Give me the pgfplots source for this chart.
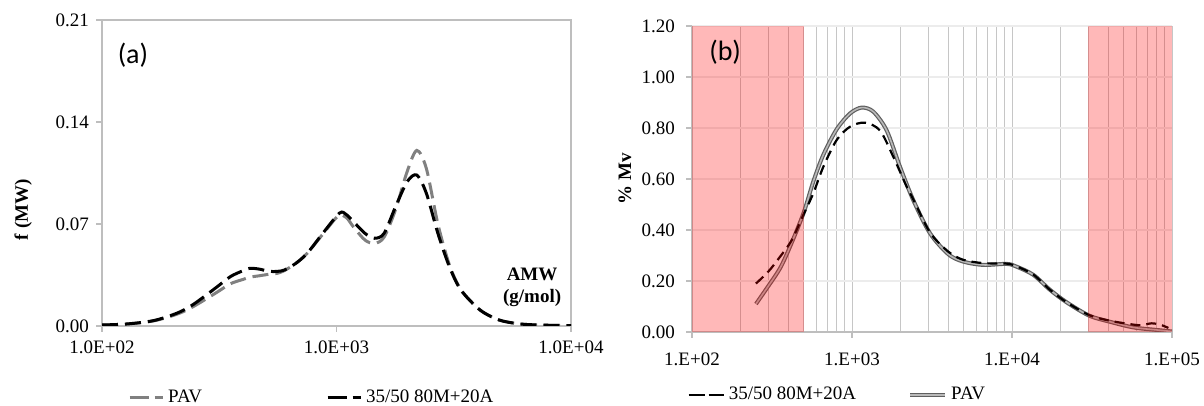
\documentclass[border=0pt]{standalone}
\usepackage{pgfplots}
\pgfplotsset{compat=1.18}
\usepackage{fontspec}
\setmainfont{Liberation Serif}
\newfontfamily\calib{Carlito}
\definecolor{pavgray}{RGB}{128,128,128}
\definecolor{axgray}{RGB}{190,190,190}
\definecolor{shade}{RGB}{255,0,0}

\pgfplotstableread{
x y
100 0.0007
128 0.0014
166 0.0035
208 0.0080
243 0.0130
304 0.0224
353 0.0290
400 0.0320
427 0.0335
470 0.0345
515 0.0355
560 0.0362
599 0.0380
671 0.0430
751 0.0500
874 0.0630
1016 0.0755
1100 0.0745
1181 0.0680
1322 0.0590
1453 0.0567
1596 0.0610
1787 0.0800
2001 0.1060
2200 0.1205
2417 0.1080
2706 0.0700
3030 0.0420
3392 0.0250
4093 0.0110
4939 0.0041
6000 0.0015
7211 0.0007
10000 0.0002
}\pavA

\pgfplotstableread{
x y
100 0.0007
128 0.0014
166 0.0037
208 0.0087
243 0.0144
304 0.0259
353 0.0339
400 0.0380
427 0.0396
470 0.0390
515 0.0375
560 0.0375
599 0.0384
671 0.0430
751 0.0500
874 0.0636
1030 0.0775
1100 0.0765
1181 0.0716
1322 0.0636
1453 0.0602
1596 0.0636
1787 0.0820
2001 0.0990
2200 0.1036
2417 0.0910
2706 0.0636
3030 0.0407
3392 0.0247
4093 0.0110
4939 0.0041
6000 0.0015
7211 0.0007
10000 0.0002
}\mixA

\pgfplotstableread{
x y
251 0.11
293 0.171
355 0.25
410 0.335
497 0.465
573 0.590
662 0.695
802 0.795
972 0.857
1149 0.88
1359 0.864
1648 0.79
1995 0.648
2415 0.517
3073 0.387
4000 0.305
4960 0.276
6620 0.263
9270 0.267
10700 0.256
13600 0.224
17300 0.165
22000 0.116
30400 0.064
41000 0.040
57300 0.018
80200 0.008
100000 0.002
}\pavB

\pgfplotstableread{
x y
251 0.19
300 0.237
355 0.295
420 0.36
497 0.46
573 0.544
662 0.648
802 0.753
972 0.805
1205 0.821
1496 0.79
1812 0.687
2196 0.57
2415 0.52
3073 0.39
4000 0.315
4960 0.283
6620 0.27
9270 0.268
10700 0.257
13600 0.225
17300 0.165
22000 0.116
30400 0.066
41000 0.044
57300 0.029
64600 0.027
74700 0.034
84100 0.029
94900 0.016
}\mixB

\begin{document}
\begin{tikzpicture}
\useasboundingbox (0,0) rectangle (602pt,203pt);
% ---------------- panel (a)
\begin{axis}[
  at={(51pt,40pt)}, anchor=south west,
  width=234.5pt, height=153pt, scale only axis,
  xmode=log, xmin=100, xmax=10000, ymin=0, ymax=0.21,
  xtick={100,1000,10000}, xticklabels={1.0E+02,1.0E+03,1.0E+04},
  ytick={0,0.07,0.14,0.21}, yticklabels={0.00,0.07,0.14,0.21},
  xminorticks=false,
  axis line style={draw=axgray, line width=0.8pt},
  tick style={draw=axgray, line width=0.8pt},
  tick align=outside, major tick length=3pt,
  xtick pos=bottom, ytick pos=left,
  ticklabel style={font=\fontsize{9.5}{11}\selectfont},
  xticklabel style={yshift=-1pt},
  ylabel={\bfseries f (MW)},
  y label style={at={(axis description cs:-0.168,0.38)}, anchor=center, font=\fontsize{9.5}{11}\selectfont},
  legend columns=2,
  legend style={at={(axis description cs:0.055,-0.235)}, anchor=west, draw=none, fill=none,
    font=\fontsize{9.5}{11}\selectfont, inner sep=0pt,
    /tikz/every even column/.append style={column sep=60pt}},
  legend image code/.code={\draw[#1, dash pattern=on 9.5pt off 3pt] (0pt,0pt) -- (16.5pt,0pt);},
  legend cell align=left,
]
\addplot[pavgray, line width=1.5pt, dash pattern=on 8pt off 3.5pt, smooth] table[x=x,y=y] {\pavA};
\addlegendentry{PAV}
\addplot[black, line width=1.5pt, dash pattern=on 8pt off 3.5pt, smooth] table[x=x,y=y] {\mixA};
\addlegendentry{35/50 80M+20A}
\node[font=\calib\fontsize{14}{16}\selectfont] at (axis description cs:0.066,0.886) {(a)};
\node[font=\bfseries\fontsize{9.5}{11}\selectfont, align=center, inner sep=0pt] at (axis description cs:0.917,0.126) {AMW\\(g/mol)};
\end{axis}
% ---------------- panel (b)
\begin{axis}[
  at={(346pt,37pt)}, anchor=south west,
  width=240pt, height=153pt, scale only axis,
  xmode=log, xmin=100, xmax=100000, ymin=0, ymax=1.2,
  xtick={100,1000,10000,100000}, xticklabels={1.E+02,1.E+03,1.E+04,1.E+05},
  ytick={0,0.2,0.4,0.6,0.8,1.0,1.2}, yticklabels={0.00,0.20,0.40,0.60,0.80,1.00,1.20},
  xmajorgrids, xminorgrids, ymajorgrids,
  x grid style={draw=gray!45, line width=0.5pt},
  y grid style={draw=gray!15, line width=0.8pt},
  minor tick length=0pt,
  axis x line=bottom, axis y line=left,
  axis line style={-, draw=axgray, line width=0.8pt},
  tick style={draw=axgray, line width=0.8pt},
  tick align=outside, major tick length=3pt,
  ticklabel style={font=\fontsize{9.5}{11}\selectfont},
  xticklabel style={yshift=-4pt},
  yticklabel style={xshift=-2pt},
  ylabel={\bfseries \% Mv},
  y label style={at={(axis description cs:-0.14,0.5)}, anchor=center, font=\fontsize{9.5}{11}\selectfont},
  legend columns=2, reverse legend,
  legend style={at={(axis description cs:-0.01,-0.206)}, anchor=west, draw=none, fill=none,
    font=\fontsize{9.5}{11}\selectfont, inner sep=0pt,
    /tikz/every even column/.append style={column sep=24pt}},
  legend image code/.code={\draw[#1] (0pt,0pt) -- (17.5pt,0pt);},
  legend cell align=left,
]
\addplot[draw={rgb,255:red,95;green,95;blue,95}, double={rgb,255:red,185;green,185;blue,185}, double distance=0.8pt, line width=0.6pt, smooth] table[x=x,y=y] {\pavB};
\addlegendentry{PAV}
\addplot[black, line width=1.1pt, dash pattern=on 5pt off 3pt, smooth, legend image post style={dash pattern=on 8pt off 2pt}] table[x=x,y=y] {\mixB};
\addlegendentry{35/50 80M+20A}
\addplot[draw=none, fill=shade, fill opacity=0.28, forget plot] coordinates {(100,0) (100,1.2) (500,1.2) (500,0)} -- cycle;
\addplot[draw=none, fill=shade, fill opacity=0.28, forget plot] coordinates {(30000,0) (30000,1.2) (100000,1.2) (100000,0)} -- cycle;
\node[font=\calib\fontsize{14}{16}\selectfont] at (axis description cs:0.069,0.915) {(b)};
\node[font=\bfseries\fontsize{9.5}{11}\selectfont] at (axis description cs:0.91,-0.2) {Mw};
\end{axis}
\end{tikzpicture}
\end{document}
